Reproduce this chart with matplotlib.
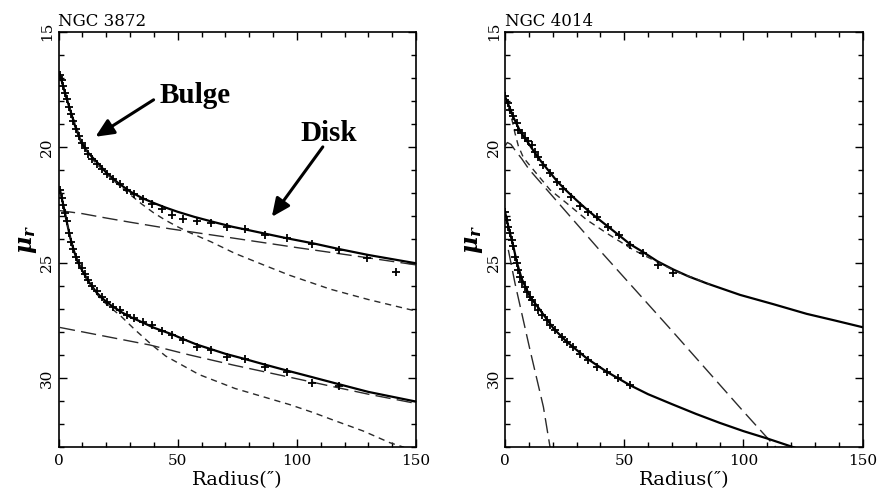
import matplotlib
matplotlib.use("Agg")
import matplotlib.pyplot as plt
import numpy as np

plt.rcParams["mathtext.fontset"] = "custom"
plt.rcParams["mathtext.it"] = "DejaVu Serif:italic:bold"
plt.rcParams["mathtext.rm"] = "DejaVu Serif:bold"

# ---------------- NGC 3872 (left panel) ----------------
n3872_hi_tot_x = [0.6, 3, 5, 7, 9.5, 12.5, 17, 20, 25, 30, 35, 40, 45, 50, 57, 65, 73, 80, 96, 107, 118, 130, 150]
n3872_hi_tot_y = [16.86, 17.75, 18.42, 19.1, 19.78, 20.25, 20.75, 21.1, 21.55, 21.92, 22.2, 22.42, 22.62, 22.8, 23.02, 23.24, 23.45, 23.6, 23.95, 24.17, 24.42, 24.67, 25.03]
n3872_hi_pts_x = [0.6, 1.3, 2.0, 2.7, 3.4, 4.4, 5.3, 6.2, 7.4, 8.5, 9.7, 11.1, 12.5, 14.2, 16.0, 18.1, 20.2, 22.8, 25.6, 28.6, 31.7, 35.4, 39.2, 43.3, 47.8, 52.4, 58.0, 63.9, 70.7, 78.4, 86.8, 96.0, 106.5, 117.6, 129.5, 141.4]
n3872_hi_pts_y = [16.86, 17.1, 17.35, 17.65, 17.9, 18.25, 18.55, 18.85, 19.2, 19.5, 19.8, 20.05, 20.3, 20.5, 20.75, 20.95, 21.15, 21.4, 21.6, 21.85, 22.05, 22.25, 22.45, 22.7, 22.95, 23.1, 23.18, 23.27, 23.45, 23.56, 23.8, 23.95, 24.2, 24.45, 24.8, 25.4]
n3872_hi_bul_x = [0.6, 5, 10, 15, 20, 25, 30, 35, 40, 45, 50, 55, 64, 74, 86, 97, 114, 130, 148, 150]
n3872_hi_bul_y = [16.86, 18.42, 19.86, 20.62, 21.15, 21.62, 22.05, 22.47, 22.85, 23.17, 23.45, 23.7, 24.1, 24.6, 25.1, 25.55, 26.15, 26.6, 27.05, 27.1]
n3872_hi_dsk_x = [0.6, 10, 20, 30, 47, 74, 100, 125, 150]
n3872_hi_dsk_y = [22.75, 22.88, 23.07, 23.25, 23.54, 23.95, 24.35, 24.72, 25.1]

n3872_lo_tot_x = [0.6, 2, 3.5, 5, 6.5, 8, 10, 12.5, 16, 19, 22, 26.5, 30, 35, 40, 48, 52, 58, 64, 70, 78, 87, 96, 106, 117, 130, 150]
n3872_lo_tot_y = [21.85, 22.5, 23.25, 23.95, 24.5, 24.95, 25.35, 25.8, 26.3, 26.6, 26.85, 27.15, 27.35, 27.58, 27.82, 28.12, 28.3, 28.55, 28.75, 28.95, 29.17, 29.43, 29.68, 29.95, 30.25, 30.6, 31.02]
n3872_lo_pts_x = [0.6, 1.3, 2.0, 2.7, 3.4, 4.4, 5.3, 6.2, 7.4, 8.5, 9.7, 11.1, 12.5, 14.2, 16.0, 18.1, 20.2, 22.8, 25.6, 28.6, 31.7, 35.4, 39.2, 43.3, 47.8, 52.4, 58.0, 63.9, 70.7, 78.4, 86.8, 96.0, 106.5, 117.6]
n3872_lo_pts_y = [21.85, 22.2, 22.5, 22.85, 23.2, 23.7, 24.1, 24.4, 24.75, 25.0, 25.25, 25.5, 25.75, 26.0, 26.25, 26.5, 26.7, 26.92, 27.05, 27.27, 27.4, 27.56, 27.72, 27.98, 28.14, 28.36, 28.65, 28.79, 29.08, 29.19, 29.51, 29.73, 30.21, 30.35]
n3872_lo_bul_x = [0.6, 2, 3.5, 5, 6.5, 8, 10, 12.5, 16, 19, 26.5, 32, 39, 45, 52, 59, 74, 97, 107, 115.5, 128, 139, 145]
n3872_lo_bul_y = [21.85, 22.5, 23.25, 23.95, 24.5, 24.95, 25.37, 25.83, 26.36, 26.7, 27.35, 27.9, 28.55, 29.05, 29.45, 29.85, 30.45, 31.15, 31.5, 31.83, 32.3, 32.8, 33.0]
n3872_lo_dsk_x = [0.6, 20, 38.4, 55, 73.4, 95, 115.5, 130, 150]
n3872_lo_dsk_y = [27.81, 28.2, 28.57, 29.0, 29.44, 29.92, 30.38, 30.7, 31.1]

# ---------------- NGC 4014 (right panel) ----------------
n4014_hi_tot_x = [0, 1.4, 3.5, 6.3, 9, 11.9, 15, 18.9, 22, 25.9, 30, 34.3, 38.4, 42.7, 47.6, 52.4, 58, 64, 70.6, 77, 84.6, 98.6, 112.5, 126.5, 138, 150]
n4014_hi_tot_y = [17.8, 18.15, 18.7, 19.3, 19.7, 20.15, 20.6, 21.1, 21.5, 21.9, 22.3, 22.7, 23.05, 23.4, 23.8, 24.2, 24.55, 24.95, 25.3, 25.6, 25.9, 26.4, 26.8, 27.22, 27.5, 27.8]
n4014_hi_pts_x = [0, 1.4, 2.1, 3.5, 4.9, 5.6, 7, 8.4, 9.8, 11.2, 12.6, 14, 16.1, 18.9, 21.7, 24.5, 27.7, 31.4, 35, 38.4, 43.4, 47.6, 52.4, 58, 64.3, 70.6]
n4014_hi_pts_y = [17.8, 18.09, 18.38, 18.67, 18.96, 19.25, 19.39, 19.61, 19.75, 19.9, 20.19, 20.41, 20.77, 21.13, 21.49, 21.8, 22.15, 22.57, 22.79, 23.01, 23.44, 23.8, 24.24, 24.6, 25.1, 25.46]
n4014_hi_bul_x = [1.5, 3, 4.2, 5.6, 7.7, 11.9, 18.9, 25.9, 34.3, 42.7, 53.8, 63.6, 72, 80, 86]
n4014_hi_bul_y = [18.3, 18.85, 19.4, 19.95, 20.45, 20.98, 21.85, 22.43, 23.15, 23.73, 24.45, 24.96, 25.4, 25.7, 25.95]
n4014_hi_dsk_x = [0, 1, 2.5, 4, 7, 10, 40, 70, 100, 114]
n4014_hi_dsk_y = [19.95, 19.8, 19.88, 20.1, 20.5, 20.95, 24.5, 27.95, 31.45, 33.05]

n4014_lo_tot_x = [0, 1.4, 3.5, 5, 7, 10.5, 14.7, 20.3, 25.9, 34.3, 42.7, 52.4, 60, 70, 80, 90, 100, 110, 122.5]
n4014_lo_tot_y = [22.79, 23.44, 24.3, 25.0, 25.7, 26.48, 27.05, 27.85, 28.43, 29.15, 29.73, 30.31, 30.7, 31.13, 31.55, 31.94, 32.3, 32.62, 33.05]
n4014_lo_pts_x = [0, 0.7, 1.4, 2.1, 2.8, 3.5, 4.2, 4.9, 5.6, 6.3, 7, 8.4, 9.1, 10.5, 11.2, 12.6, 14, 15.4, 17.5, 18.9, 21, 23.8, 25.9, 28.7, 31.4, 34.9, 38.4, 42.6, 47.5, 52.4]
n4014_lo_pts_y = [22.79, 23.15, 23.44, 23.73, 24.02, 24.3, 24.74, 25.03, 25.32, 25.61, 25.83, 26.05, 26.26, 26.48, 26.62, 26.84, 27.05, 27.27, 27.49, 27.71, 27.92, 28.21, 28.43, 28.65, 28.94, 29.23, 29.52, 29.73, 30.02, 30.31]
n4014_lo_dsk_x = [1.4, 4.2, 10.5, 16.1, 18.9]
n4014_lo_dsk_y = [24.45, 25.9, 28.79, 31.25, 33.0]

titles = ["NGC 3872", "NGC 4014"]
xticks_major = [0, 50, 100, 150]
yticks_major = [15, 20, 25, 30]

SERIF = "DejaVu Serif"
fig = plt.figure(figsize=(8.79, 4.88), dpi=100)
W, H = 879.0, 488.0
ax1 = fig.add_axes([58.5 / W, (H - 447.3) / H, 357.5 / W, 415.6 / H])
ax2 = fig.add_axes([505.0 / W, (H - 447.3) / H, 357.7 / W, 415.6 / H])

SHORT = (0, (4.5, 3.5))
LONG = (0, (11, 4.5))
dash_col = "#2a2a2a"


def style(ax, title):
    ax.set_xlim(0, 150)
    ax.set_ylim(33, 15)
    ax.set_xticks(xticks_major)
    ax.set_xticks(np.arange(0, 151, 10), minor=True)
    ax.set_yticks(yticks_major)
    ax.set_yticks(np.arange(15, 34, 1), minor=True)
    ax.tick_params(which="both", direction="in", top=True, right=True, width=1.0, colors="black")
    ax.tick_params(which="major", length=6)
    ax.tick_params(which="minor", length=3.5)
    ax.set_xticklabels([str(v) for v in xticks_major], fontsize=11, family=SERIF)
    ax.set_yticklabels([str(v) for v in yticks_major], fontsize=11, family=SERIF,
                       rotation=90, va="center")
    ax.tick_params(axis="x", pad=5)
    ax.tick_params(axis="y", pad=3)
    for s in ax.spines.values():
        s.set_linewidth(1.2)
    ax.set_xlabel("Radius(\u2033)", fontsize=14, family=SERIF, labelpad=2)
    ax.set_ylabel(r"$\mu_r$", fontsize=17, labelpad=1)
    ax.text(0.0, 1.005, title, transform=ax.transAxes, fontsize=12, family=SERIF,
            ha="left", va="bottom")


lw_tot = 1.6
lw_d = 1.0
ms = 6

# left panel
ax1.plot(n3872_hi_tot_x, n3872_hi_tot_y, color="black", lw=lw_tot)
ax1.plot(n3872_hi_bul_x, n3872_hi_bul_y, color=dash_col, lw=lw_d, linestyle=SHORT)
ax1.plot(n3872_hi_dsk_x, n3872_hi_dsk_y, color=dash_col, lw=lw_d, linestyle=LONG)
ax1.plot(n3872_hi_pts_x, n3872_hi_pts_y, linestyle="none", marker="+", color="black", ms=ms, mew=1.3)
ax1.plot(n3872_lo_tot_x, n3872_lo_tot_y, color="black", lw=lw_tot)
ax1.plot(n3872_lo_bul_x, n3872_lo_bul_y, color=dash_col, lw=lw_d, linestyle=SHORT)
ax1.plot(n3872_lo_dsk_x, n3872_lo_dsk_y, color=dash_col, lw=lw_d, linestyle=LONG)
ax1.plot(n3872_lo_pts_x, n3872_lo_pts_y, linestyle="none", marker="+", color="black", ms=ms, mew=1.3)

# right panel
ax2.plot(n4014_hi_tot_x, n4014_hi_tot_y, color="black", lw=lw_tot)
ax2.plot(n4014_hi_bul_x, n4014_hi_bul_y, color=dash_col, lw=lw_d, linestyle=SHORT)
ax2.plot(n4014_hi_dsk_x, n4014_hi_dsk_y, color=dash_col, lw=lw_d, linestyle=LONG)
ax2.plot(n4014_hi_pts_x, n4014_hi_pts_y, linestyle="none", marker="+", color="black", ms=ms, mew=1.3)
ax2.plot(n4014_lo_tot_x, n4014_lo_tot_y, color="black", lw=lw_tot)
ax2.plot(n4014_lo_dsk_x, n4014_lo_dsk_y, color=dash_col, lw=lw_d, linestyle=LONG)
ax2.plot(n4014_lo_pts_x, n4014_lo_pts_y, linestyle="none", marker="+", color="black", ms=ms, mew=1.3)

style(ax1, titles[0])
style(ax2, titles[1])

# annotations
arrow_kw = dict(arrowstyle="-|>,head_length=0.55,head_width=0.25", lw=2.2, color="black",
                mutation_scale=20, shrinkA=0, shrinkB=0)
ax1.annotate("", xy=(15.5, 19.55), xytext=(39.9, 17.95), arrowprops=arrow_kw)
ax1.annotate("", xy=(89.5, 23.02), xytext=(110.9, 19.99), arrowprops=arrow_kw)
ax1.text(42.5, 17.75, "Bulge", fontsize=21, fontweight="bold", family="Liberation Serif",
         ha="left", va="center")
ax1.text(101.5, 19.4, "Disk", fontsize=21, fontweight="bold", family="Liberation Serif",
         ha="left", va="center")

fig.savefig("out.png", dpi=100)
